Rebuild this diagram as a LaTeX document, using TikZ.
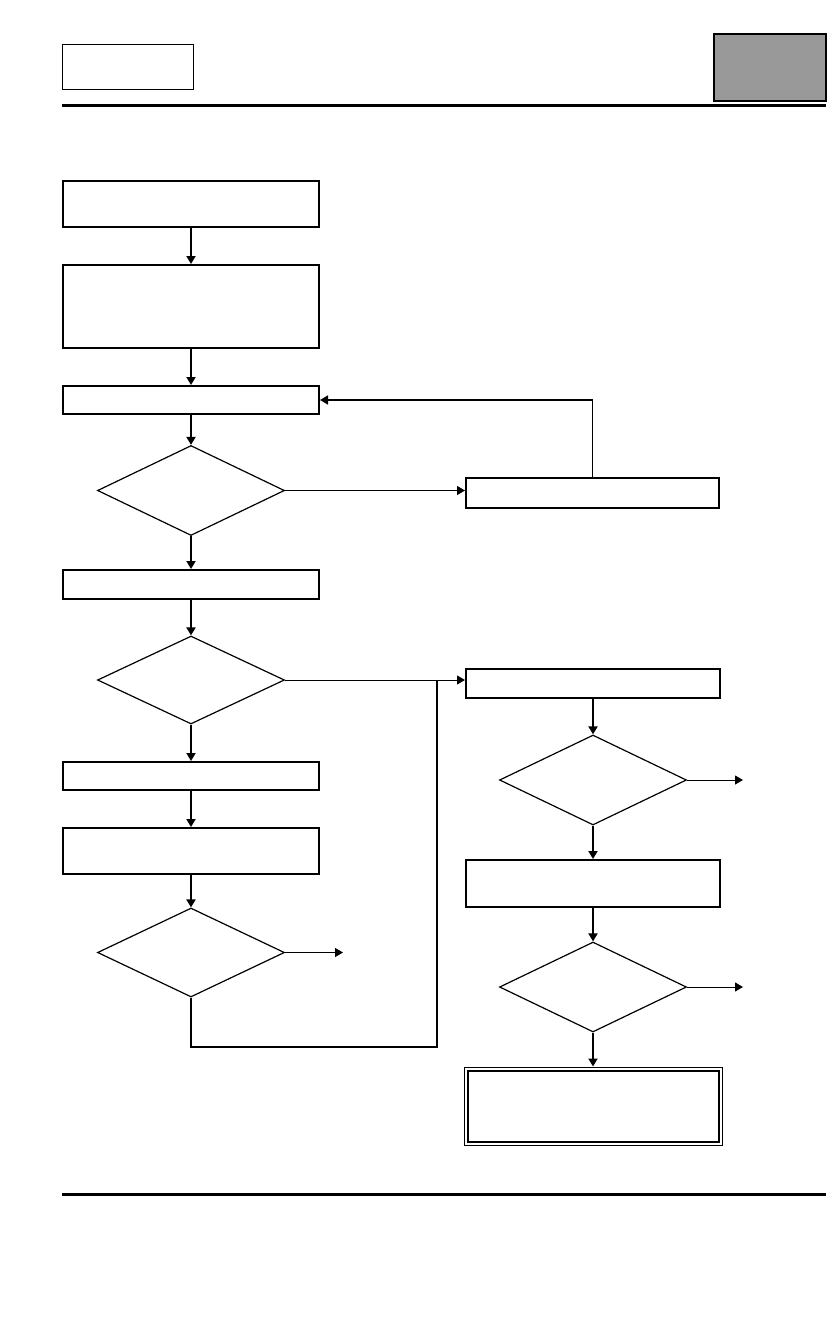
\documentclass[tikz,border=0pt]{standalone}
\usepackage{tikz}
\usepackage{xcolor}
\usetikzlibrary{shapes.geometric}
\usetikzlibrary{positioning}
\usetikzlibrary{arrows.meta}
\tikzstyle{stepbox} = [rectangle, minimum width=256pt, draw=black, line width=2pt, inner sep=0pt]
\tikzstyle{decision} = [diamond, minimum width=187pt, minimum height=90pt, draw=black, line width=1.2pt, inner sep=0pt]
\tikzstyle{arrow} = [line width=1.8pt,-{Triangle[length=8pt,width=9pt]}]
\tikzstyle{sidearrow} = [line width=1pt,-{Triangle[length=8pt,width=9pt]}]
\tikzstyle{link} = [line width=1.4pt]

\begin{document}
\begin{tikzpicture}[x=1pt,y=-1pt]
        \useasboundingbox (0,0) rectangle (840,1320);

        % page header and footer
        \node (logo) [rectangle, draw=black, line width=1pt, minimum width=131pt, minimum height=45pt] at (127.5,66.5) {};
        \node (tab) [rectangle, draw=black, fill=black!40, line width=2pt, minimum width=112pt, minimum height=67pt] at (769.5,67) {};
        \draw [line width=3pt] (62,105) -- (826,105);
        \draw [line width=3pt] (62,1194) -- (826,1194);

        % left column
        \node (start) [stepbox, minimum height=46pt] at (191,204) {};
        \node (prepare) [stepbox, minimum height=83pt, below=36pt of start] {};
        \node (setup) [stepbox, minimum height=28pt, below=36pt of prepare] {};
        \node (checkA) [decision] at (191,490.5) {};
        \node (stepB) [stepbox, minimum height=29pt] at (191,584.5) {};
        \node (checkB) [decision, minimum height=88pt] at (191,680) {};
        \node (stepC) [stepbox, minimum height=28pt] at (191,776) {};
        \node (stepD) [stepbox, minimum height=46pt, below=36pt of stepC] {};
        \node (checkC) [decision, minimum height=89pt] at (191,952.5) {};

        % right column
        \node (retry) [stepbox, minimum width=253pt, minimum height=30pt] at (592.5,493) {};
        \node (stepE) [stepbox, minimum width=254pt, minimum height=29pt] at (593,683.5) {};
        \node (checkD) [decision] at (593,780) {};
        \node (stepF) [stepbox, minimum width=254pt, minimum height=47pt] at (593,883.5) {};
        \node (checkE) [decision] at (593,987) {};
        \node (finish) [rectangle, draw=black, line width=1pt, minimum width=258pt, minimum height=78pt] at (593,1106) {};
        \draw [line width=2pt] ([xshift=4pt,yshift=-4pt]finish.north west) rectangle ([xshift=-4pt,yshift=4pt]finish.south east);

        \coordinate (join) at (437,680);
        \coordinate (loop) at (437,1047);
        \coordinate (outC) at (343,952.5);
        \coordinate (outD) at (743,780);
        \coordinate (outE) at (743,987);

        \draw [arrow] (start) -- (prepare);
        \draw [arrow] (prepare) -- (setup);
        \draw [arrow] (setup) -- (checkA);
        \draw [sidearrow] (checkA.east) -- (checkA.east -| retry.west);
        \draw [arrow, line width=1.5pt] (retry.north) |- (setup.east);
        \draw [arrow] (checkA) -- (stepB);
        \draw [arrow] (stepB) -- (checkB);
        \draw [sidearrow] (checkB.east) -- (checkB.east -| stepE.west);
        \draw [arrow] (checkB) -- (stepC);
        \draw [arrow] (stepC) -- (stepD);
        \draw [arrow] (stepD) -- (checkC);
        \draw [sidearrow] (checkC.east) -- (outC);
        \draw [link] (checkC.south) |- (loop) -- (join);
        \draw [arrow] (stepE) -- (checkD);
        \draw [sidearrow] (checkD.east) -- (outD);
        \draw [arrow] (checkD) -- (stepF);
        \draw [arrow] (stepF) -- (checkE);
        \draw [sidearrow] (checkE.east) -- (outE);
        \draw [arrow] (checkE) -- (finish);
    \end{tikzpicture}
\end{document}
